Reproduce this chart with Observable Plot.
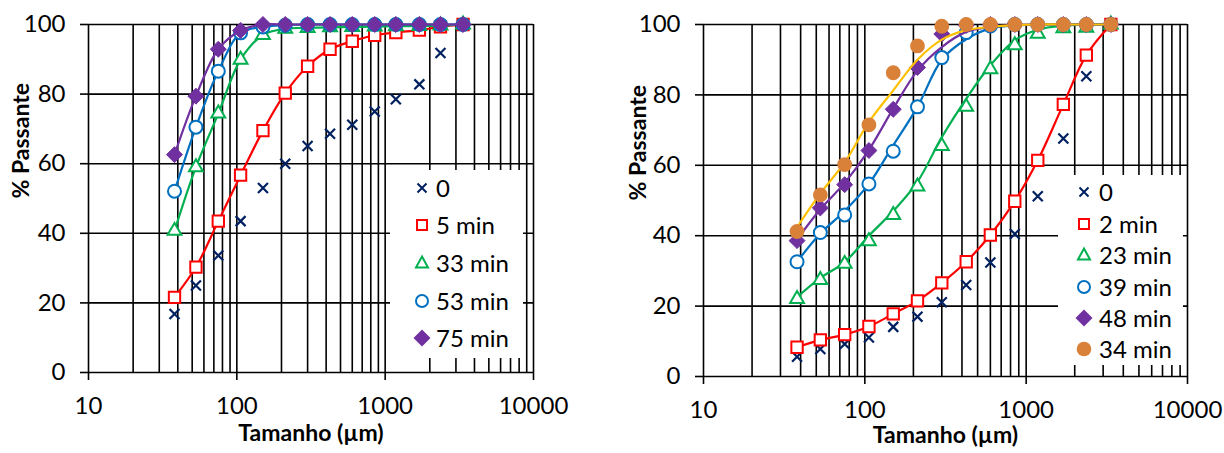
<!DOCTYPE html>
<html><head><meta charset="utf-8">
<script src="https://cdn.jsdelivr.net/npm/d3@7"></script>
<script src="https://cdn.jsdelivr.net/npm/@observablehq/plot@0.6"></script>
<style>
body{margin:0;background:#fff;}
#wrap{position:relative;width:1224px;height:453px;font-family:Lato,sans-serif;overflow:hidden;}
.chart{position:absolute;top:0;}
.legend{position:absolute;background:#fff;font-size:24px;color:#000;}
.mk{position:absolute;width:20px;height:20px;transform:translate(-50%,-50%);}
.lt{position:absolute;transform:translateY(-50%);white-space:nowrap;line-height:1;}
</style></head><body><div id="wrap"></div>
<script>
// sieve sizes (µm)
const sizes = [38, 53, 75, 106, 150, 212, 300, 425, 600, 850, 1180, 1700, 2360, 3350];
const yTicks = [0, 20, 40, 60, 80, 100];
const xTickLabels = [10, 100, 1000, 10000];

// Left panel (% passante)
const left0  = [16.8, 25.0, 33.6, 43.5, 53.0, 60.0, 65.1, 68.6, 71.2, 75.0, 78.5, 82.8, 91.8, 100];
const left5  = [21.6, 30.3, 43.5, 56.7, 69.5, 80.3, 88.0, 92.9, 95.2, 96.9, 97.7, 98.4, 99.3, 100];
const left33 = [40.7, 59.0, 74.4, 89.9, 97.0, 98.8, 99.0, 99.2, 99.3, 99.4, 99.5, 99.6, 99.7, 100];
const left53 = [52.1, 70.5, 86.6, 97.6, 99.3, 99.8, 100, 100, 100, 100, 100, 100, 100, 100];
const left75 = [62.6, 79.4, 92.9, 98.3, 100, 100, 100, 100, 100, 100, 100, 100, 100, 100];

// Right panel points
const right0  = [5.6, 7.8, 9.2, 11.1, 14.1, 17.0, 21.1, 26.0, 32.4, 40.5, 51.2, 67.6, 85.3, 100];
const right2  = [8.3, 10.4, 11.9, 14.2, 17.8, 21.5, 26.6, 32.6, 40.2, 49.8, 61.4, 77.3, 91.3, 100];
const right23 = [22.0, 27.4, 32.0, 38.4, 45.9, 54.0, 65.5, 76.6, 87.3, 94.1, 97.4, 98.9, 99.1, 100];
const right39 = [32.6, 40.9, 45.9, 54.7, 64.0, 76.6, 90.6, 97.7, 99.6, 100, 100, 100, 100, 100];
const right48 = [38.6, 47.9, 54.5, 64.2, 75.9, 87.8, 97.3, 99.8, 100, 100, 100, 100, 100, 100];
const right34 = [41.2, 51.6, 60.2, 71.5, 86.3, 93.9, 99.5, 100, 100, 100, 100, 100, 100, 100];

// Right panel fitted curves (at the sieve sizes)
const fit2  = right2;
const fit23 = [22.5, 28.0, 32.5, 40.0, 47.0, 55.3, 68.0, 78.9, 88.4, 95.5, 98.5, 99.7, 100, 100];
const fit39 = [32.6, 40.6, 47.0, 54.7, 65.7, 76.6, 90.0, 95.8, 98.9, 99.7, 100, 100, 100, 100];
const fit48 = [38.9, 47.5, 55.0, 64.4, 76.1, 86.9, 93.6, 97.9, 99.3, 99.8, 100, 100, 100, 100];
const fit34 = [42.4, 52.0, 60.8, 72.3, 81.3, 90.0, 95.7, 98.4, 99.3, 99.8, 100, 100, 100, 100];

const leftLabels  = ["0", "5 min", "33 min", "53 min", "75 min"];
const rightLabels = ["0", "2 min", "23 min", "39 min", "48 min", "34 min"];

const styles = {
  times:    {symbol: "times",     stroke: "#002060", fill: "none",    r: 4.6, strokeWidth: 2.2, line: "#002060"},
  square:   {symbol: "square",    stroke: "#FF0000", fill: "white",   r: 6.4, strokeWidth: 2, line: "#FF0000"},
  triangle: {symbol: "triangle2", stroke: "#00B050", fill: "white",   r: 6.6, strokeWidth: 2, line: "#00B050"},
  circle:   {symbol: "circle",    stroke: "#0070C0", fill: "white",   r: 6.5, strokeWidth: 2, line: "#0070C0"},
  diamond:  {symbol: "diamond2",  stroke: "#7030A0", fill: "#7030A0", r: 7.2, strokeWidth: 1, line: "#7030A0"},
  dot:      {symbol: "circle",    stroke: "none",    fill: "#DA8139", r: 7.4, strokeWidth: 0, line: "#FFC000"}
};

const leftSeries = [
  {label: leftLabels[0], pts: left0,  fit: null,   st: "times"},
  {label: leftLabels[1], pts: left5,  fit: left5,  st: "square"},
  {label: leftLabels[2], pts: left33, fit: left33, st: "triangle"},
  {label: leftLabels[3], pts: left53, fit: left53, st: "circle"},
  {label: leftLabels[4], pts: left75, fit: left75, st: "diamond"}
];
const rightSeries = [
  {label: rightLabels[0], pts: right0,  fit: null,  st: "times"},
  {label: rightLabels[1], pts: right2,  fit: fit2,  st: "square"},
  {label: rightLabels[2], pts: right23, fit: fit23, st: "triangle"},
  {label: rightLabels[3], pts: right39, fit: fit39, st: "circle"},
  {label: rightLabels[4], pts: right48, fit: fit48, st: "diamond"},
  {label: rightLabels[5], pts: right34, fit: fit34, st: "dot"}
];

// grid positions: 1..9 × each decade
const xGrid = [10, 100, 1000].flatMap(d => [1,2,3,4,5,6,7,8,9].map(k => k * d)).concat([10000]);

function panel(series, o) {
  const marks = [
    Plot.ruleY(yTicks, {stroke: "black", strokeWidth: 1.6}),
    Plot.ruleX(xGrid, {stroke: "black", strokeWidth: 1.6}),
    Plot.axisY({ticks: yTicks, tickSize: 8, tickPadding: 15, label: null, stroke: "black", strokeWidth: 1.6, fontSize: 24}),
    Plot.axisX({ticks: xTickLabels, tickSize: 8, tickPadding: 16, label: null, tickFormat: d => String(d), stroke: "black", strokeWidth: 1.6, fontSize: 24}),
    Plot.text(["% Passante"], {frameAnchor: "left", dx: o.ytx, rotate: -90, fontWeight: "bold", fontSize: 23, fill: "black"}),
    Plot.text(["Tamanho (µm)"], {frameAnchor: "bottom", dy: o.xty, fontWeight: "bold", fontSize: 23, fill: "black"})
  ];
  for (const s of series) {
    const st = styles[s.st];
    if (s.fit) {
      marks.push(Plot.line(sizes.map((x, i) => ({x, y: s.fit[i]})), {x: "x", y: "y", stroke: st.line, strokeWidth: 2.2, curve: "catmull-rom"}));
    }
    marks.push(Plot.dot(sizes.map((x, i) => ({x, y: s.pts[i]})), {x: "x", y: "y", symbol: () => st.symbol, r: st.r, stroke: st.stroke, fill: st.fill, strokeWidth: st.strokeWidth}));
  }
  return Plot.plot({
    width: o.width, height: 453,
    marginLeft: o.ml, marginRight: o.mr, marginTop: o.mt, marginBottom: o.mb,
    x: {type: "log", domain: [10, 10000]},
    y: {domain: [0, 100]},
    style: {fontFamily: "Lato, sans-serif", fontSize: "24px", color: "black", background: "white", overflow: "visible"},
    marks
  });
}

function markerSVG(key) {
  const st = styles[key];
  let inner = "";
  if (key === "times") inner = `<path d="M5.5,5.5L14.5,14.5M14.5,5.5L5.5,14.5" stroke="${st.stroke}" stroke-width="2"/>`;
  if (key === "square") inner = `<rect x="5" y="5" width="10" height="10" fill="white" stroke="${st.stroke}" stroke-width="2"/>`;
  if (key === "triangle") inner = `<path d="M10,3.5L16,14.5L4,14.5Z" fill="white" stroke="${st.stroke}" stroke-width="2"/>`;
  if (key === "circle") inner = `<circle cx="10" cy="10" r="6" fill="white" stroke="${st.stroke}" stroke-width="2"/>`;
  if (key === "diamond") inner = `<path d="M10,1.5L18.5,10L10,18.5L1.5,10Z" fill="${st.fill}"/>`;
  if (key === "dot") inner = `<circle cx="10" cy="10" r="7.3" fill="${st.fill}"/>`;
  return `<svg class="mk" viewBox="0 0 20 20">${inner}</svg>`;
}

function legend(series, box) {
  const div = document.createElement("div");
  div.className = "legend";
  Object.assign(div.style, {left: box.x + "px", top: box.y + "px", width: box.w + "px", height: box.h + "px"});
  let html = "";
  series.forEach((s, i) => {
    const cy = box.rows[i];
    html += `<div style="position:absolute;left:${box.mx}px;top:${cy}px">${markerSVG(s.st)}</div>`;
    html += `<div class="lt" style="left:${box.tx}px;top:${cy}px">${s.label}</div>`;
  });
  div.innerHTML = html;
  return div;
}

const wrap = document.getElementById("wrap");
const c1 = panel(leftSeries, {width: 600, ml: 88, mr: 67, mt: 24, mb: 81, ytx: -67, xty: 68});
c1.classList.add("chart"); c1.style.left = "0px";
const c2 = panel(rightSeries, {width: 624, ml: 103, mr: 37, mt: 24, mb: 77, ytx: -65, xty: 66});
c2.classList.add("chart"); c2.style.left = "600px";
wrap.appendChild(c1);
wrap.appendChild(c2);
wrap.appendChild(legend(leftSeries, {x: 390, y: 170, w: 133, h: 188, mx: 32, tx: 46, rows: [18, 55, 93, 131, 168]}));
wrap.appendChild(legend(rightSeries, {x: 1058, y: 175, w: 125, h: 190, mx: 26, tx: 41, rows: [17, 49, 80, 112, 143, 174]}));
</script></body></html>
